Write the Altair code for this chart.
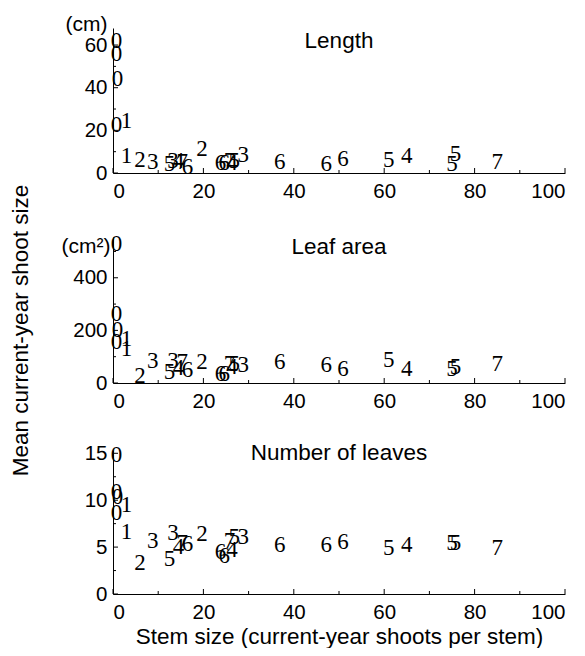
import altair as alt
import pandas as pd

# ---- data ----
labels = ["0", "0", "0", "0", "1", "1", "2", "3", "5", "3", "4", "7", "6", "2",
          "6", "6", "7", "4", "5", "3", "6", "6", "6", "5", "4", "5", "5", "7"]
stem = [0.8, 0.8, 1.0, 0.8, 3.0, 3.0, 6.0, 8.8, 12.5, 13.3, 14.5, 15.3, 16.5, 19.7,
        23.8, 24.6, 25.8, 26.3, 26.8, 28.8, 36.9, 47.2, 50.9, 61.0, 65.0, 75.0, 75.8, 85.0]
length = [62.0, 56.0, 44.0, 22.5, 24.5, 8.2, 6.0, 5.2, 4.0, 5.8, 5.6, 5.0, 3.0, 11.2,
          4.5, 4.5, 5.5, 4.5, 5.5, 8.3, 5.2, 4.4, 6.7, 5.9, 8.0, 4.0, 9.0, 5.2]
area = [530, 264, 200, 156, 169, 131, 26, 82, 42, 82, 58, 78, 48, 80,
        36, 34, 73, 60, 72, 67, 80, 67, 54, 86, 54, 54, 61, 73]
leaves = [14.8, 10.9, 10.3, 8.6, 9.5, 6.6, 3.3, 5.7, 3.7, 6.5, 5.0, 5.4, 5.3, 6.4,
          4.5, 4.0, 5.7, 4.7, 6.1, 6.1, 5.2, 5.2, 5.5, 4.9, 5.2, 5.4, 5.4, 4.9]

x_major = [0, 20, 40, 60, 80, 100]
x_minor = [10, 30, 50, 70, 90]

df = pd.DataFrame({"label": labels, "stem": stem, "length": length,
                   "area": area, "leaves": leaves})

SANS = "Liberation Sans"
SERIF = "Liberation Serif"
W = 452
TFS = 22.5   # title font size
LFS = 20.5   # tick label font size


def panel(field, H, domain, y_major, y_minor, unit, unit_x, unit_y, ptitle, ty, xtitle):
    xenc = alt.X("stem:Q", scale=alt.Scale(domain=[0, 100], nice=False, zero=True),
                 axis=alt.Axis(values=x_major, ticks=False, tickSize=0, grid=False,
                               labelPadding=8, title=xtitle, titlePadding=3,
                               titleFontSize=TFS))
    if unit:
        yaxis = alt.Axis(values=y_major, ticks=False, tickSize=0, grid=False, labelPadding=6,
                         title=unit, titleAngle=0, titleAlign="right", titleFontSize=21,
                         titleBaseline="middle", titleX=unit_x, titleY=unit_y)
    else:
        yaxis = alt.Axis(values=y_major, ticks=False, tickSize=0, grid=False,
                         labelPadding=6, title=None)
    yenc = alt.Y(f"{field}:Q", scale=alt.Scale(domain=domain, nice=False, zero=True),
                 axis=yaxis)

    pts = alt.Chart(df).mark_text(font=SERIF, fontSize=23, color="black",
                                  baseline="middle", align="center").encode(
        x=xenc, y=yenc, text="label:N")

    xmaj = alt.Chart(pd.DataFrame({"stem": x_major})).mark_rule(color="black").encode(
        x=xenc, y=alt.value(H), y2=alt.value(H - 5))
    xmin = alt.Chart(pd.DataFrame({"stem": x_minor})).mark_rule(color="black").encode(
        x=xenc, y=alt.value(H), y2=alt.value(H - 3))
    ymaj = alt.Chart(pd.DataFrame({field: y_major})).mark_rule(color="black").encode(
        y=yenc, x=alt.value(0), x2=alt.value(5))
    ymin = alt.Chart(pd.DataFrame({field: y_minor})).mark_rule(color="black").encode(
        y=yenc, x=alt.value(0), x2=alt.value(3))

    ttl = alt.Chart(pd.DataFrame({"t": [ptitle]})).mark_text(
        font=SANS, fontSize=TFS, color="black", baseline="middle", align="center"
    ).encode(text="t:N", x=alt.value(W / 2), y=alt.value(ty))

    return alt.layer(pts, xmaj, xmin, ymaj, ymin, ttl).properties(width=W, height=H)


p1 = panel("length", 145, [0, 68], [0, 20, 40, 60], [10, 30, 50], "(cm)", -6, -4,
           "Length", 12.5, None)
p2 = panel("area", 146, [0, 555], [0, 200, 400], [100, 300, 500], "(cm²)", -3, 9,
           "Leaf area", 10, None)
p3 = panel("leaves", 144, [0, 15.35], [0, 5, 10, 15], [2.5, 7.5, 12.5], None, 0, 0,
           "Number of leaves", 3.0, "Stem size (current-year shoots per stem)")

chart = alt.vconcat(p1, p2, p3, spacing=30).properties(
    title=alt.TitleParams(text="Mean current-year shoot size", orient="left",
                          anchor="middle", font=SANS, fontSize=TFS,
                          fontWeight="normal", color="black", offset=29),
    padding={"left": 1, "top": 5, "right": 0, "bottom": 0},
).configure_view(stroke=None).configure_axis(
    domainColor="black", domainWidth=1,
    labelFont=SANS, labelFontSize=LFS, labelColor="black",
    titleFont=SANS, titleFontSize=21, titleFontWeight="normal", titleColor="black",
).configure_text(font=SERIF)

chart.save("out.html", embed_options={"renderer": "svg", "actions": False})
